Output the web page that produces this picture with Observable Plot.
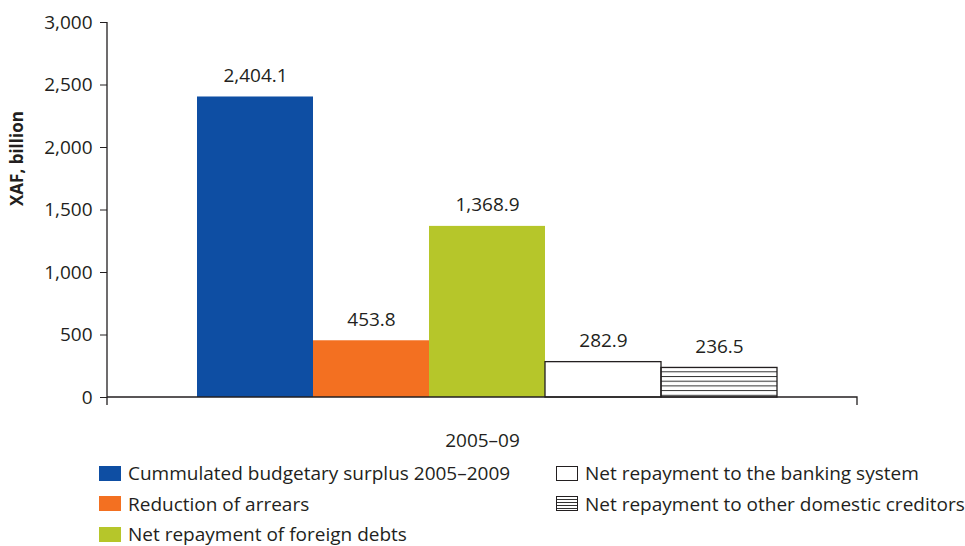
<!DOCTYPE html>
<html>
<head>
<meta charset="utf-8">
<script src="https://cdn.jsdelivr.net/npm/d3@7"></script>
<script src="https://cdn.jsdelivr.net/npm/@observablehq/plot@0.6"></script>
<style>
  body { margin: 0; background: #fff; font-family: "Open Sans", sans-serif; color: #231f20; }
  #wrap { position: relative; width: 965px; height: 546px; overflow: hidden; }
  #legend { position: absolute; left: 0; top: 458px; width: 965px; }
  .row { position: absolute; height: 30px; display: flex; align-items: center; font-size: 19px; line-height: 22px; white-space: nowrap; }
  .sw { width: 22px; height: 15px; margin-right: 7px; box-sizing: border-box; flex: none; }
</style>
</head>
<body>
<div id="wrap">
  <div id="chart"></div>
  <div id="legend"></div>
</div>
<script>
const series = [
  "Cummulated budgetary surplus 2005–2009",
  "Reduction of arrears",
  "Net repayment of foreign debts",
  "Net repayment to the banking system",
  "Net repayment to other domestic creditors"
];
const values = [2404.1, 453.8, 1368.9, 282.9, 236.5];
const fills = ["#0e4ea3", "#f37021", "#b6c62a", "#ffffff", "url(#hatch)"];
const outlined = [false, false, false, true, true];
const yTicks = [0, 500, 1000, 1500, 2000, 2500, 3000];
const period = "2005–09";
const yLabel = "XAF, billion";

const data = series.map((s, i) => ({series: s, value: values[i], outlined: outlined[i]}));
const fmt = d3.format(",.1f");

const axisLines = (index, scales, values, dims) => {
  const g = d3.create("svg:g");
  const y0 = scales.y(0);
  const left = dims.marginLeft, right = dims.width - dims.marginRight;
  g.append("path")
    .attr("fill", "none")
    .attr("stroke", "#231f20")
    .attr("stroke-width", 1.3)
    .attr("d", `M${left},${dims.marginTop}V${y0 + 8}M${left},${y0}H${right}V${y0 + 8}`);
  return g.node();
};

const plot = Plot.plot({
  width: 965,
  height: 458,
  marginTop: 22,
  marginBottom: 61,
  marginLeft: 107,
  marginRight: 108,
  style: {fontFamily: "Open Sans, sans-serif", fontSize: "19px", color: "#231f20", background: "transparent"},
  x: {domain: series, paddingInner: 0, paddingOuter: 0.716, align: 0.53, axis: null},
  y: {domain: [0, 3000], axis: null},
  color: {type: "ordinal", domain: series, range: fills},
  marks: [
    Plot.barY(data, {x: "series", y: "value", fill: "series", insetLeft: 0, insetRight: 0}),
    Plot.barY(data.filter(d => d.outlined), {x: "series", y: "value", fill: "none", stroke: "#231f20", strokeWidth: 1.3}),
    Plot.axisY({ticks: yTicks, tickSize: 7, tickPadding: 8, tickFormat: d3.format(","), fontSize: 19, label: null, stroke: "#231f20"}),
    axisLines,
    Plot.text(data, {x: "series", y: "value", text: d => fmt(d.value), dy: -15, lineAnchor: "bottom", fontSize: 19, fill: "#231f20"}),
    Plot.text([period], {frameAnchor: "bottom", dy: 49, lineAnchor: "bottom", fontSize: 19, fill: "#231f20"}),
    Plot.text([yLabel], {frameAnchor: "left", rotate: -90, dx: -90, dy: -4, fontSize: 17, fontWeight: "bold", fill: "#231f20"})
  ]
});

// hatch pattern definition
const defs = d3.select(plot).insert("defs", ":first-child");
const pat = defs.append("pattern")
  .attr("id", "hatch")
  .attr("patternUnits", "userSpaceOnUse")
  .attr("width", 10)
  .attr("height", 4.7);
pat.append("rect").attr("width", 10).attr("height", 4.7).attr("fill", "#fff");
pat.append("line").attr("x1", 0).attr("x2", 10).attr("y1", 0.5).attr("y2", 0.5)
  .attr("stroke", "#333").attr("stroke-width", 1);

document.getElementById("chart").appendChild(plot);

// legend
const legend = d3.select("#legend");
const layout = [
  {col: 0, row: 0}, {col: 0, row: 1}, {col: 0, row: 2},
  {col: 1, row: 0}, {col: 1, row: 1}
];
const colLeft = [99, 556];
series.forEach((s, i) => {
  const r = legend.append("div").attr("class", "row")
    .style("left", colLeft[layout[i].col] + "px")
    .style("top", (layout[i].row * 30.5) + "px");
  const sw = r.append("div").attr("class", "sw");
  if (i < 3) {
    sw.style("background", fills[i]);
  } else if (i === 3) {
    sw.style("background", "#fff").style("border", "1.3px solid #231f20");
  } else {
    sw.style("border", "1.3px solid #231f20")
      .style("background", "repeating-linear-gradient(to bottom, #fff 0px, #fff 2px, #333 2px, #333 3px)");
  }
  r.append("span").text(s);
});
</script>
</body>
</html>
